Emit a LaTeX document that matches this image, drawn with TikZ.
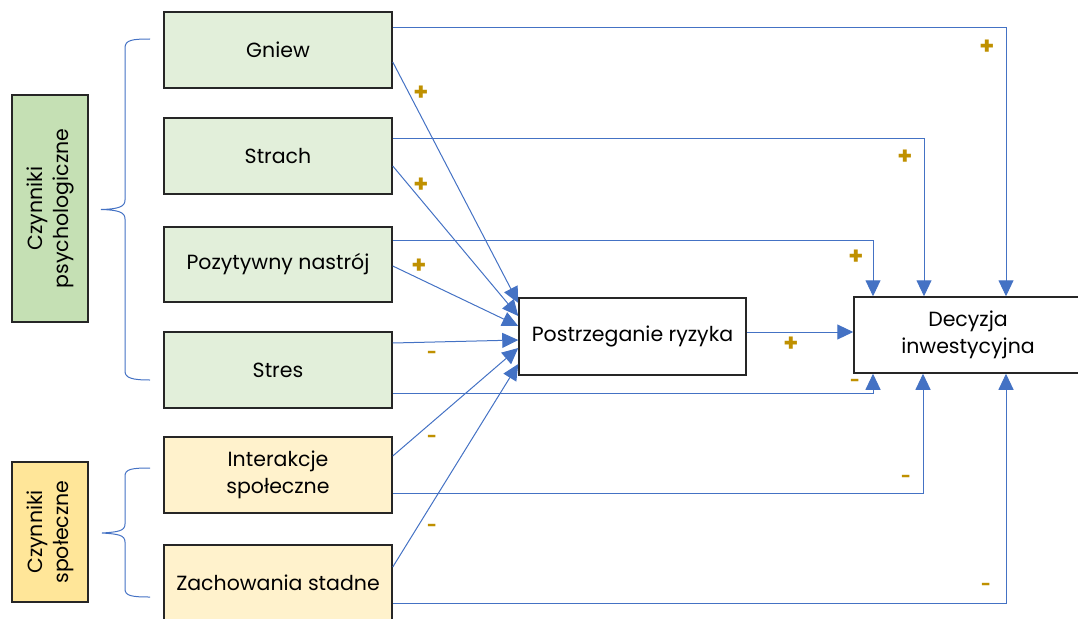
\documentclass[tikz,border=0pt]{standalone}
\usepackage{fontspec}
\setmainfont{Poppins}
\usetikzlibrary{arrows.meta,decorations.pathreplacing}
\definecolor{lgreen}{HTML}{E2EFDA}
\definecolor{mgreen}{HTML}{C5E0B4}
\definecolor{lyellow}{HTML}{FFF2CC}
\definecolor{myellow}{HTML}{FFE699}
\definecolor{lblue}{HTML}{4472C4}
\definecolor{gold}{HTML}{BF9000}
\tikzset{
  box/.style={draw=black!85, line width=1.5pt, minimum width=228pt, minimum height=76pt, inner sep=2pt, align=center, font=\fontsize{20.5}{27}\selectfont},
  gbox/.style={box, fill=lgreen},
  ybox/.style={box, fill=lyellow},
  catbox/.style={draw=black!85, line width=1.5pt, minimum width=76pt, align=center},
  cattext/.style={rotate=90, align=center, font=\fontsize{20.5}{26}\selectfont},
  conn/.style={draw=lblue, line width=1pt, -{Triangle[length=16pt,width=15pt]}},
  brc/.style={draw=lblue, line width=1pt},
  sgn/.style={text=gold, font=\bfseries\fontsize{24}{24}\selectfont, inner sep=0pt},
  msgn/.style={text=gold, font=\bfseries\fontsize{17}{17}\selectfont, inner sep=0pt}
}
\begin{document}
\begin{tikzpicture}[x=1pt,y=-1pt]
\useasboundingbox (0,0) rectangle (1078,618);
\clip (0,0) rectangle (1078,618);
% category boxes
\node[catbox, fill=mgreen, minimum height=227pt] (psy) at (50,208.5) {};
\node[cattext] (psyt) at (psy.center) {Czynniki\\psychologiczne};
\node[catbox, fill=myellow, minimum height=140pt] (soc) at (50,532) {};
\node[cattext] (soct) at (soc.center) {Czynniki\\społeczne};
% braces
\coordinate (pb1) at (150,39);
\coordinate (pb2) at (150,380);
\coordinate (sb1) at (150,468);
\coordinate (sb2) at (150,597);
\draw[brc] (pb1) .. controls (132,39) and (125,40) .. (125,48) -- (125,200) .. controls (125,207) and (118,209) .. (101,209.5)
  .. controls (118,210) and (125,212) .. (125,219) -- (125,371) .. controls (125,378) and (132,380) .. (pb2);
\draw[brc] (sb1) .. controls (132,468) and (125,469) .. (125,476) -- (125,524) .. controls (125,531) and (118,532) .. (102,533)
  .. controls (118,534) and (125,535) .. (125,542) -- (125,589) .. controls (125,596) and (132,597) .. (sb2);
% factor boxes
\node[gbox] (gn) at (278,50) {Gniew};
\node[gbox] (st) at (278,156) {Strach};
\node[gbox, minimum height=75pt] (pn) at (278,264.5) {Pozytywny nastrój};
\node[gbox] (sr) at (278,370) {Stres};
\node[ybox] (is) at (278,475) {Interakcje\\społeczne};
\node[ybox] (zs) at (278,583) {Zachowania stadne};
% outcome boxes
\node[box, fill=white, minimum width=227pt, minimum height=77pt] (pr) at (632.5,336.5) {Postrzeganie ryzyka};
\node[box, fill=white, minimum width=228pt] (dc) at (968,335) {Decyzja\\inwestycyjna};
% connectors to risk perception
\draw[conn] ([yshift=-12pt]gn.east) -- ([yshift=33.5pt]pr.west);
\draw[conn] ([yshift=-10pt]st.east) -- ([yshift=20.5pt]pr.west);
\draw[conn] ([yshift=-1.5pt]pn.east) -- ([yshift=10.5pt]pr.west);
\draw[conn] ([yshift=27pt]sr.east) -- ([yshift=-3.5pt]pr.west);
\draw[conn] ([yshift=19pt]is.east) -- ([yshift=-11.5pt]pr.west);
\draw[conn] ([yshift=16pt]zs.east) -- ([yshift=-27.5pt]pr.west);
% connectors to decision
\coordinate (c1) at (1006,28);
\coordinate (c2) at (924,138);
\coordinate (c3) at (873,240);
\coordinate (c4) at (873,393);
\coordinate (c5) at (923,493);
\coordinate (c6) at (1006,603);
\draw[conn] ([yshift=22pt]gn.east) -- (c1) -- (c1 |- dc.north);
\draw[conn] ([yshift=18pt]st.east) -- (c2) -- (c2 |- dc.north);
\draw[conn] ([yshift=24.5pt]pn.east) -- (c3) -- (c3 |- dc.north);
\draw[conn] ([yshift=-23pt]sr.east) -- (c4) -- (c4 |- dc.south);
\draw[conn] ([yshift=-18pt]is.east) -- (c5) -- (c5 |- dc.south);
\draw[conn] ([yshift=-20pt]zs.east) -- (c6) -- (c6 |- dc.south);
\coordinate (pe) at ([yshift=4.5pt]pr.east);
\draw[conn] (pe) -- (pe -| dc.west);
% signs
\node[sgn] (p1) at (421,93) {+};
\node[sgn] (p2) at (421,185) {+};
\node[sgn] (p3) at (419,266) {+};
\node[sgn] (p4) at (987,47) {+};
\node[sgn] (p5) at (905,157) {+};
\node[sgn] (p6) at (856,257) {+};
\node[sgn] (p7) at (791,344) {+};
\node[msgn] (m1) at (432,355) {-};
\node[msgn] (m2) at (432,439) {-};
\node[msgn] (m3) at (432,528) {-};
\node[msgn] (m4) at (855,383) {-};
\node[msgn] (m5) at (906,479) {-};
\node[msgn] (m6) at (986,587) {-};
\end{tikzpicture}
\end{document}
